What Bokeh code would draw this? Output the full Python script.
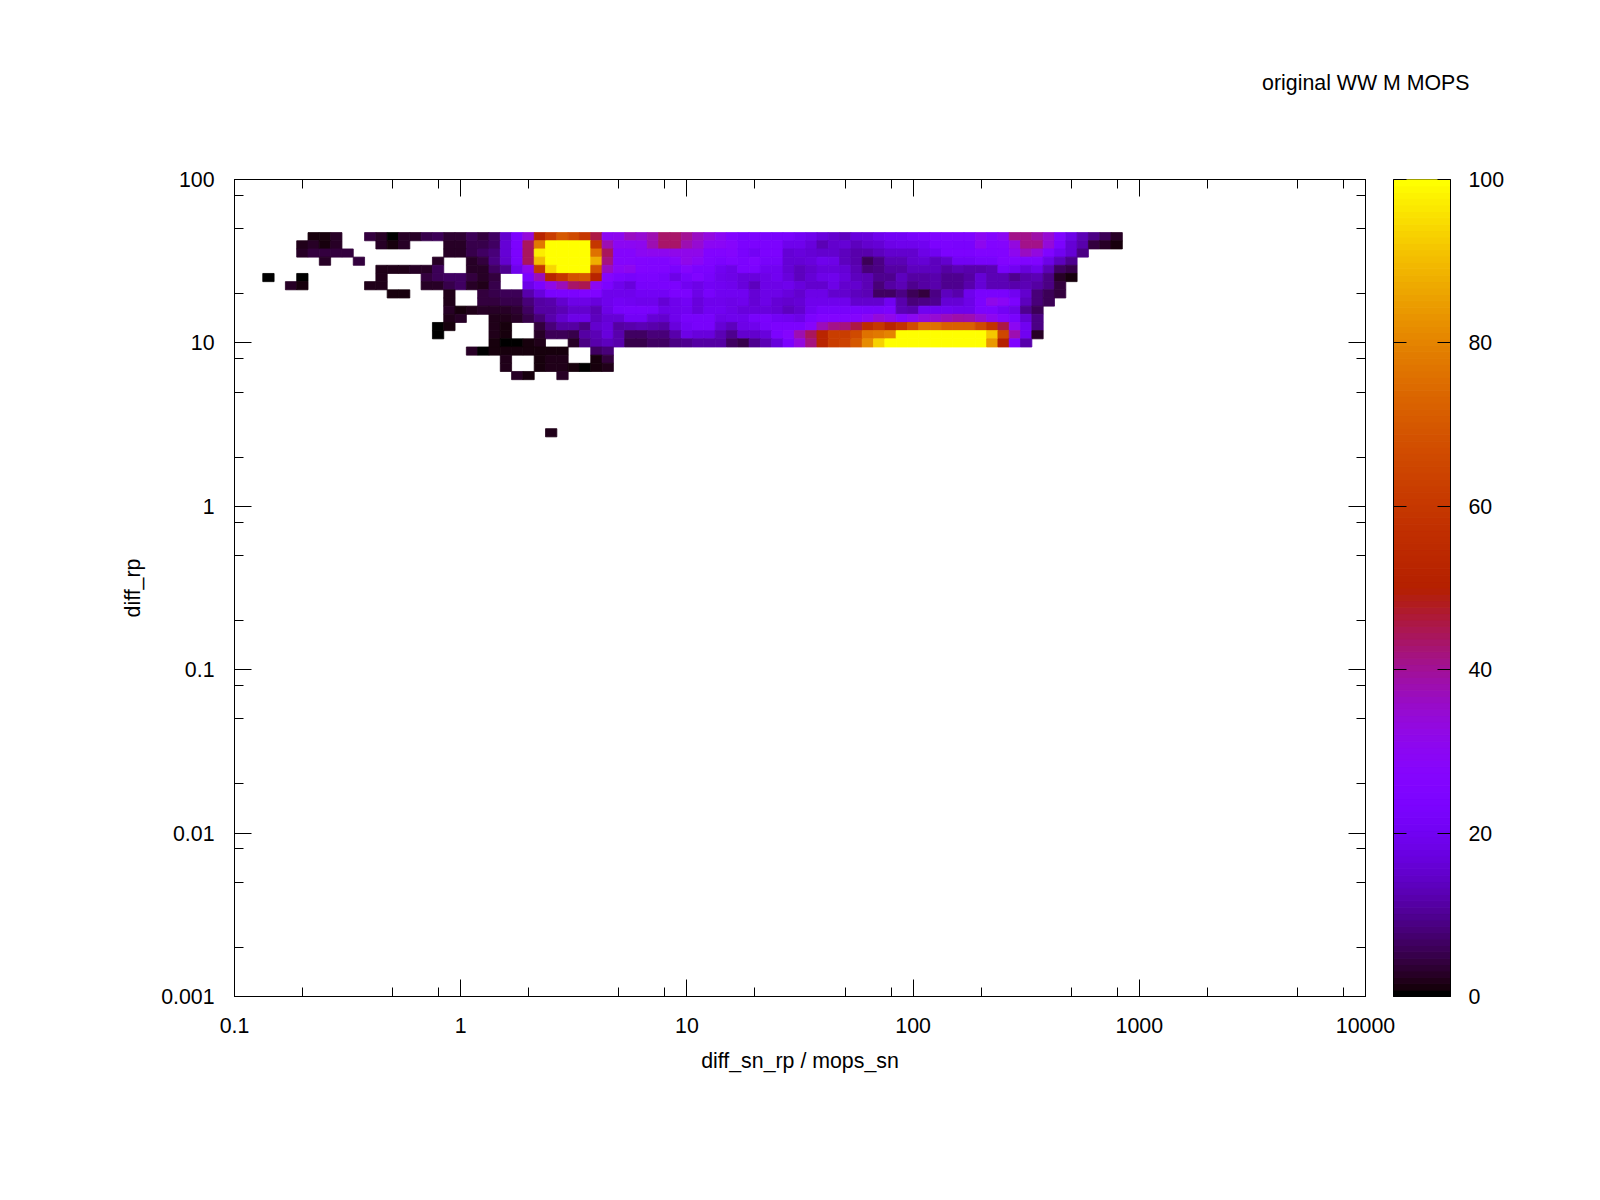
import numpy as np
from bokeh.plotting import figure
from bokeh.layouts import column, row
from bokeh.models import (ColumnDataSource, LinearColorMapper, LogAxis, LinearAxis, FixedTicker,
                          Range1d, Label)
from bokeh.embed import file_html
from bokeh.resources import INLINE

_ = float("nan")
FONT = "Liberation Sans"

chart_title = "original WW M MOPS"
x_label = "diff_sn_rp / mops_sn"
y_label = "diff_rp"
x_ticks = [0.1, 1, 10, 100, 1000, 10000]
x_tick_labels = ["0.1", "1", "10", "100", "1000", "10000"]
y_ticks = [0.001, 0.01, 0.1, 1, 10, 100]
y_tick_labels = ["0.001", "0.01", "0.1", "1", "10", "100"]
cb_ticks = [0, 20, 40, 60, 80, 100]

# Histogram cells: rows from the top (log10 y = 1.65, step -0.05); each row starts at bin 3
# of the x-axis (log10 x = -1 + 0.05 * bin).
row_00 = [_]*4 + [1.5,1,2.5,_,_, 4,2.5,0.7,3,3,5,6,3.5,3.5,6,4,7,
  15,24,34,52,62,70,66,60,46,30,31,36,35,38,43,43,40,36,33,30,26,24,24,23,23,23,21,
  19,17,15,14,17,17,19,21,21,22,24,25,25,25,25,30,27,30,41,41,39,35,25,18,13,9,6,3]
row_01 = [_]*3 + [2,3,1.5,2.5,_,_,_, 2.5,1.5,3,_,_,_, 2.5,2.5,5,5,7,
  16,24,44,78,100,100,100,100,60,38,30,30,31,38,43,43,38,35,30,29,28,24,24,24,24,19,19,
  17,13,15,16,14,15,16,18,19,19,20,24,24,23,23,31,26,27,33,41,41,34,24,16,12,4,3,1.5]
row_02 = [_]*3 + [2.5,4,4,4,4] + [_]*8 + [2.5,2.5,5,7,8,
  16,24,44,97,100,100,100,100,76,44,27,27,30,31,31,32,32,32,26,26,27,23,21,24,24,16,17,
  16,15,15,14,12,12,14,15,15,15,18,20,24,24,24,25,25,26,31,36,33,25,20,16,9]
row_03 = [_]*5 + [3,_,_,4] + [_]*6 + [2.5,_,_,3,4,9,
  15,23,44,90,100,100,100,100,88,42,27,27,26,25,25,28,32,29,25,24,25,24,25,22,22,16,16,
  17,19,18,14,12,6,9,13,13,15,16,14,15,21,21,22,22,26,26,25,25,18,14,10]
row_04 = [_]*10 + [2,2,2,3,3,6,_,_,3,3,7,
  10,19,31,60,94,100,100,100,68,36,29,31,26,25,25,23,27,24,24,20,18,24,24,20,20,16,14,
  15,17,17,16,13,8,9,11,11,14,14,14,11,13,12,12,13,22,20,17,19,13,7,5]
row_05 = [0.5,_,_,0.7] + [_]*6 + [2,_,_,_,4,6,7,7,4,2.5,4,_,_,
  24,37,53,60,68,70,52,27,24,22,24,24,22,18,22,25,22,19,18,17,17,18,20,17,14,
  16,18,19,17,14,13,10,10,14,11,11,12,10,10,11,16,13,13,10,12,13,9,3,1]
row_06 = [_,_,3,1] + [_]*5 + [2,2,_,_,_,3,3,5,7,3,2,5,_,_,
  18,24,32,37,43,45,30,24,19,17,22,22,23,24,20,18,21,20,19,17,14,18,18,19,17,
  15,15,18,15,15,13,8,11,13,10,11,12,10,10,12,16,13,13,12,13,11,9,4]
row_07 = [_]*11 + [1,1,_,_,_,2,_,_,4,5,
  6,6,12,17,23,24,24,25,25,19,19,19,21,21,21,24,24,18,22,20,20,20,16,18,18,17,15,
  18,18,15,15,14,13,7,7,9,6,4,9,14,12,19,23,23,23,20,15,8,6,4]
row_08 = [_]*16 + [2,_,_,4,4,
  5,5,8,11,12,15,18,18,17,19,21,20,19,19,16,19,21,17,19,19,18,19,16,18,16,15,16,
  19,19,19,19,15,15,15,20,12,8,9,10,16,16,18,24,32,29,24,14,8,6]
row_09 = [_]*16 + [3,1.5,2,3,3,
  3,3.5,7,11,11,13,15,15,13,18,22,23,23,22,18,19,20,17,20,20,18,17,17,17,16,14,15,
  20,22,22,22,23,22,22,24,13,12,20,20,20,19,19,24,24,21,18,10,6]
row_10 = [_]*16 + [2,2.5,_,_,2,
  2,2.5,5,8,12,15,18,18,14,16,16,21,21,16,15,19,22,22,22,18,19,19,22,23,21,20,18,
  24,26,26,26,27,30,34,32,27,30,33,35,37,39,38,35,31,27,23,16,9]
row_11 = [_]*15 + [0.5,1,_,_,_,2,
  1.5,_,_,4,8,11,11,9,15,17,11,12,13,12,11,17,21,22,22,16,14,18,19,22,24,24,24,
  28,37,41,42,46,55,60,53,58,67,76,76,72,72,72,66,58,46,30,20,9]
row_12 = [_]*15 + [0.5,_,_,_,_,2,
  1.5,_,_,3,6,6,5,11,13,17,12,7,7,8,8,12,18,17,17,13,10,15,15,17,24,27,38,
  44,53,62,62,66,76,78,80,100,100,100,100,100,100,100,100,92,65,38,20,3]
row_13 = [_]*20 + [1.5,
  0.5,0.7,1,2,_,_,3,9,12,14,12,5,5,7,7,9,10,11,11,11,7,5,10,13,17,24,33,
  42,53,62,64,70,82,93,100,100,100,100,100,100,100,100,100,84,50,25,12]
row_14 = [_]*18 + [2.5,0.7,1.5,1.5,1.5,1.5,1.5,1.5,1.5,_,_,7,8]
row_15 = [_]*21 + [2,_,_,1.5,2,2,_,_,1.5,4]
row_16 = [_]*21 + [2,_,_,1,2,2,1,0.5,1,2]
row_17 = [_]*22 + [3,1.5,_,_,3]
row_24 = [_]*25 + [2]

rows = {0: row_00, 1: row_01, 2: row_02, 3: row_03, 4: row_04, 5: row_05, 6: row_06, 7: row_07,
        8: row_08, 9: row_09, 10: row_10, 11: row_11, 12: row_12, 13: row_13, 14: row_14,
        15: row_15, 16: row_16, 17: row_17, 24: row_24}

# gnuplot's default pm3d palette (rgbformulae 7,5,15), 128 levels
t = np.linspace(0, 1, 128)
rgb = np.stack([np.sqrt(t), t**3, np.clip(np.sin(2*np.pi*t), 0, 1)], axis=1)
palette = ["#%02x%02x%02x" % tuple(int(round(c*255)) for c in v) for v in rgb]
mapper = LinearColorMapper(palette=palette, low=0, high=100)

left, right, bottom, top, z = [], [], [], [], []
for r, vals in rows.items():
    ly = 1.65 - 0.05*r
    for i, v in enumerate(vals):
        if v != v:
            continue
        lx = -1 + 0.05*(i + 3)
        left.append(10**(lx-0.025)); right.append(10**(lx+0.025))
        bottom.append(10**(ly-0.025)); top.append(10**(ly+0.025)); z.append(v)
src = ColumnDataSource(dict(left=left, right=right, bottom=bottom, top=top, z=z))

# ---- title strip
head = figure(width=1592, height=148, x_range=Range1d(0, 1592), y_range=Range1d(0, 148),
              toolbar_location=None, output_backend="svg", min_border=0, outline_line_color=None)
head.axis.visible = False
head.grid.visible = False
head.add_layout(Label(x=1469, y=66, text=chart_title, text_align="right", text_baseline="middle",
                      text_font=FONT, text_font_size="21.33px", text_color="#000000"))

# ---- main plot (wide enough that the "10000" label is not pushed inwards)
p = figure(width=1397, height=1044, x_axis_type="log", y_axis_type="log",
           x_range=Range1d(0.1, 10000), y_range=Range1d(0.001, 100),
           toolbar_location=None, output_backend="svg",
           min_border_left=234, min_border_right=32, min_border_top=31, min_border_bottom=196,
           outline_line_color="#000000", outline_line_width=1)
p.grid.visible = False
p.quad(left="left", right="right", bottom="bottom", top="top", source=src,
       fill_color={"field": "z", "transform": mapper},
       line_color={"field": "z", "transform": mapper}, line_width=0.8)

x_minor = [m*d for d in x_ticks[:-1] for m in (2, 5, 8)]
y_minor = [m*d for d in y_ticks[:-1] for m in (2, 5, 8)]

def style(ax, ticks, minor, overrides):
    ax.ticker = FixedTicker(ticks=ticks, minor_ticks=minor)
    ax.major_tick_in = 17
    ax.major_tick_out = 0
    ax.minor_tick_in = 9
    ax.minor_tick_out = 0
    ax.major_tick_line_color = "#000000"
    ax.minor_tick_line_color = "#000000"
    ax.axis_line_color = "#000000"
    ax.major_label_overrides = overrides
    ax.major_label_text_font = FONT
    ax.major_label_text_font_size = "21.33px"
    ax.major_label_text_color = "#000000"
    ax.axis_label_text_font = FONT
    ax.axis_label_text_font_size = "21.33px"
    ax.axis_label_text_font_style = "normal"
    ax.axis_label_text_color = "#000000"

style(p.xaxis[0], x_ticks, x_minor, dict(zip(x_ticks, x_tick_labels)))
p.xaxis[0].major_label_standoff = 21
p.xaxis[0].axis_label = x_label
p.xaxis[0].axis_label_standoff = 13
style(p.yaxis[0], y_ticks, y_minor, dict(zip(y_ticks, y_tick_labels)))
p.yaxis[0].major_label_standoff = 20
p.yaxis[0].axis_label = y_label
p.yaxis[0].axis_label_standoff = 13

top_ax = LogAxis()
style(top_ax, x_ticks, x_minor, {t_: "" for t_ in x_ticks})
top_ax.major_label_standoff = 0
p.add_layout(top_ax, "above")
right_ax = LogAxis()
style(right_ax, y_ticks, y_minor, {t_: "" for t_ in y_ticks})
right_ax.major_label_standoff = 0
p.add_layout(right_ax, "right")

# ---- colour box
cb_levels = np.linspace(0, 100, 129)
cb_src = ColumnDataSource(dict(bottom=cb_levels[:-1], top=cb_levels[1:], color=palette))
cb = figure(width=199, height=1044, x_range=Range1d(0, 1), y_range=Range1d(0, 100),
            toolbar_location=None, output_backend="svg", margin=(0, 0, 0, -4),
            min_border_left=0, min_border_right=142, min_border_top=31, min_border_bottom=196,
            outline_line_color="#000000", outline_line_width=1,
            background_fill_color=None, border_fill_color=None)
cb.grid.visible = False
cb.xaxis.visible = False
cb.quad(left=0, right=1, bottom="bottom", top="top", source=cb_src,
        fill_color="color", line_color="color", line_width=1)
cb_labels = {t_: str(t_) for t_ in cb_ticks}
cb_l = cb.yaxis[0]
style(cb_l, cb_ticks, [], {t_: "" for t_ in cb_ticks})
cb_l.major_tick_in = 13
cb_l.major_label_standoff = 0
cb_r = LinearAxis()
style(cb_r, cb_ticks, [], cb_labels)
cb_r.major_tick_in = 13
cb_r.major_label_standoff = 18
cb.add_layout(cb_r, "right")

layout = column(head, row(p, cb, spacing=0), spacing=0)
open("out.html", "w").write(file_html(layout, INLINE))
